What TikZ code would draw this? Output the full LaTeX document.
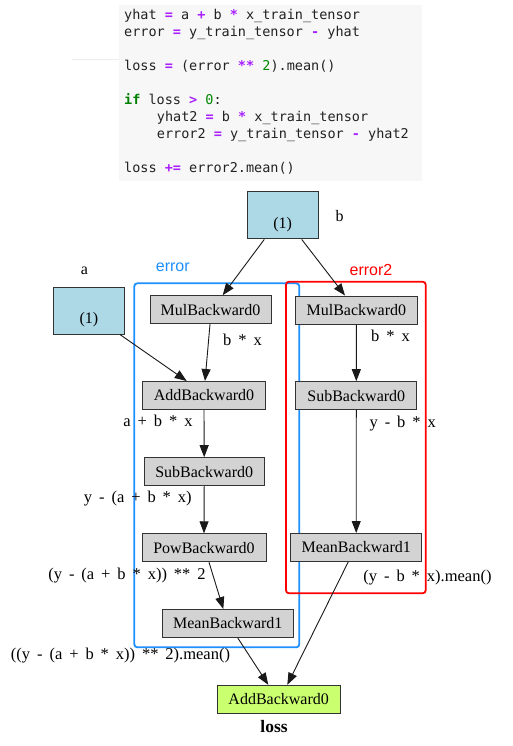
\documentclass[tikz,border=0pt]{standalone}
\usepackage{fontspec}
\setmainfont{Liberation Serif}
\setsansfont{Liberation Sans}
\setmonofont{DejaVu Sans Mono}
\usetikzlibrary{arrows.meta,calc}
\definecolor{codebg}{HTML}{F7F7F7}
\definecolor{oppurple}{HTML}{AA22FF}
\definecolor{numgreen}{HTML}{008800}
\definecolor{kwgreen}{HTML}{008000}
\definecolor{codetext}{HTML}{222222}
\definecolor{errblue}{HTML}{1E90FF}
\definecolor{errred}{HTML}{FF0000}
\definecolor{gvgray}{HTML}{D3D3D3}
\definecolor{gvblue}{HTML}{ADD8E6}
\definecolor{gvgreen}{HTML}{CAFF70}
\newcommand\cop[1]{\textcolor{oppurple}{\bfseries #1}}
\newcommand\cnum[1]{\textcolor{numgreen}{#1}}
\newcommand\ckw[1]{\textcolor{kwgreen}{\bfseries #1}}
\newcommand\lblfont{\fontsize{16.5}{19}\selectfont\spaceskip=0.42em\relax}
\newcommand\gvnodefont{\fontsize{16}{19}\selectfont}
\newcommand\codefont{\ttfamily\fontsize{13.5}{16}\selectfont}
\begin{document}
\begin{tikzpicture}[x=1pt,y=-1pt,
  codeline/.style={anchor=base west, inner sep=0pt, font=\codefont, text=codetext},
  gvnode/.style={draw=black!80, line width=1pt, fill=gvgray, minimum height=28pt, inner sep=0pt, font=\gvnodefont},
  leafbox/.style={draw=black!80, line width=1pt, fill=gvblue, minimum width=71pt, minimum height=47pt, inner sep=0pt},
  plain/.style={inner sep=0pt, font=\gvnodefont},
  elabel/.style={inner sep=0pt, font=\lblfont},
  edge/.style={-{Triangle[length=12pt,width=9pt]}, line width=0.9pt, black!90},
  cluster/.style={rounded corners=3pt, line width=1.8pt},
  clabel/.style={inner sep=0pt, font=\sffamily\fontsize{16}{19}\selectfont}]
\useasboundingbox (0,0) rectangle (512,746);
\fill[white] (0,0) rectangle (512,746);
% code cell
\fill[codebg] (118.5,5) rectangle (422,181);
\draw[black!7, line width=0.8pt] (71.5,59) -- (118.5,59);
\node[codeline] (c1) at (124,20) {yhat \cop{=} a \cop{+} b \cop{*} x\_train\_tensor};
\node[codeline] (c2) at (124,36.9) {error \cop{=} y\_train\_tensor \cop{-} yhat};
\node[codeline] (c3) at (124,70.7) {loss \cop{=} (error \cop{**} \cnum{2}).mean()};
\node[codeline] (c4) at (124,104.5) {\ckw{if} loss \cop{>} \cnum{0}:};
\node[codeline] (c5) at (156.7,121.4) {yhat2 \cop{=} b \cop{*} x\_train\_tensor};
\node[codeline] (c6) at (156.7,138.3) {error2 \cop{=} y\_train\_tensor \cop{-} yhat2};
\node[codeline] (c7) at (124,172.1) {loss \cop{+=} error2.mean()};
% clusters
\draw[cluster, errblue] (134.3,283.3) rectangle (299.3,647.3);
\node[clabel, text=errblue] (errlbl) at (172.8,267.5) {error};
\draw[cluster, errred] (286,281.7) rectangle (425.7,593.3);
\node[clabel, text=errred] (err2lbl) at (371,269.5) {error2};
% leaves
\node[leafbox] (b) at (282.7,215.4) {};
\node[plain] (bval) at (282.7,224.5) {(1)};
\node[plain] (blbl) at (339.5,216.5) {b};
\node[leafbox] (a) at (88.9,310.5) {};
\node[plain] (aval) at (88.9,319.8) {(1)};
\node[plain] (albl) at (84.5,270.5) {a};
% gray nodes
\node[gvnode, minimum width=121pt] (mulL) at (210.5,309.7) {MulBackward0};
\node[gvnode, minimum width=122.6pt] (addL) at (204,395.5) {AddBackward0};
\node[gvnode, minimum width=120.3pt] (subL) at (204.2,471.7) {SubBackward0};
\node[gvnode, minimum width=124pt] (powL) at (204,547.8) {PowBackward0};
\node[gvnode, minimum width=131pt] (meanL) at (227.8,623.5) {MeanBackward1};
\node[gvnode, minimum width=122.7pt] (mulR) at (356.4,310) {MulBackward0};
\node[gvnode, minimum width=121.3pt] (subR) at (356.3,395.7) {SubBackward0};
\node[gvnode, minimum width=131pt] (meanR) at (356.2,547.5) {MeanBackward1};
\node[gvnode, fill=gvgreen, minimum width=122.7pt] (addF) at (278.7,699.3) {AddBackward0};
\node[plain, font=\bfseries\fontsize{17.5}{20}\selectfont] (losslbl) at (274,727) {loss};
% edges
\draw[edge] ([xshift=-18.4pt]b.south) -- ([xshift=12.2pt]mulL.north);
\draw[edge] ([xshift=19pt]b.south) -- ([xshift=-11.4pt]mulR.north);
\draw[edge] ([xshift=-5pt]a.south east) -- ([xshift=-17.3pt]addL.north);
\draw[edge] ([xshift=-0.5pt]mulL.south) -- ([xshift=1pt]addL.north);
\draw[edge] (addL.south) -- (subL.north);
\draw[edge] (subL.south) -- (powL.north);
\draw[edge] ([xshift=5pt]powL.south) -- ([xshift=-4.5pt]meanL.north);
\draw[edge] ([xshift=10pt]meanL.south) -- ([xshift=-10.4pt]addF.north);
\draw[edge] (mulR.south) -- (subR.north);
\draw[edge] (subR.south) -- (meanR.north);
\draw[edge] ([xshift=-8pt]meanR.south) -- ([xshift=8.6pt]addF.north);
% edge labels
\node[elabel] (l1) at (242.5,340) {b * x};
\node[elabel] (l2) at (390.5,336) {b * x};
\node[elabel] (l3) at (158,421) {a + b * x};
\node[elabel] (l4) at (402.7,423.5) {y - b * x};
\node[elabel] (l5) at (137.8,499) {y - (a + b * x)};
\node[elabel] (l6) at (427.5,578) {(y - b * x).mean()};
\node[elabel] (l7) at (127,575.5) {(y - (a + b * x)) ** 2};
\node[elabel] (l8) at (120.5,656) {((y - (a + b * x)) ** 2).mean()};
\end{tikzpicture}
\end{document}
